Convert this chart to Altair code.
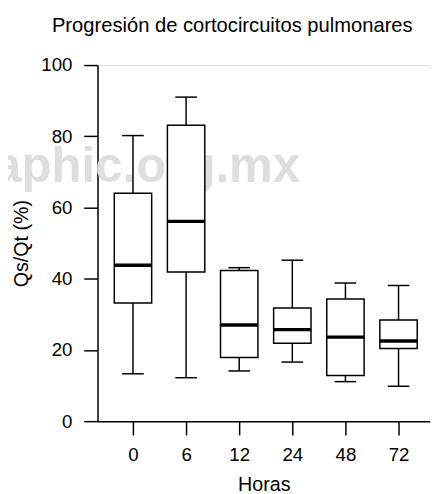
import altair as alt
import pandas as pd

hours = ["0", "6", "12", "24", "48", "72"]
whisker_low = [13.3, 12.2, 14.1, 16.6, 11.1, 9.8]
q1 = [33.2, 41.9, 17.9, 21.9, 12.8, 20.4]
median = [43.8, 56.1, 27.0, 25.7, 23.6, 22.5]
q3 = [64.0, 83.1, 42.3, 31.8, 34.3, 28.4]
whisker_high = [80.2, 91.0, 43.1, 45.2, 38.8, 38.1]

df = pd.DataFrame({
    "hora": hours,
    "lo": whisker_low,
    "q1": q1,
    "med": median,
    "q3": q3,
    "hi": whisker_high,
})

FONT = "Liberation Sans"
LFS = 19
TFS = 20

xenc = alt.X(
    "hora:N",
    sort=hours,
    scale=alt.Scale(type="point", padding=0.63, align=0.53),
    axis=alt.Axis(
        title="Horas", labelAngle=0, tickSize=14, tickWidth=1.5, tickColor="black",
        domainColor="black", domainWidth=1.5, labelFontSize=LFS, labelFont=FONT,
        labelColor="black", labelPadding=11, titleFontSize=TFS, titleFont=FONT,
        titleFontWeight="normal", titleColor="black", titlePadding=10, grid=False,
    ),
)
yscale = alt.Scale(domain=[0, 100], nice=False, zero=True)
yaxis = alt.Axis(
    title="Qs/Qt (%)", values=[0, 20, 40, 60, 80, 100], tickSize=14, tickWidth=1.5,
    tickColor="black", domainColor="black", domainWidth=1.5, labelFontSize=LFS,
    labelFont=FONT, labelColor="black", labelPadding=12, titleFontSize=TFS,
    titleFont=FONT, titleFontWeight="normal", titleColor="black", titlePadding=9,
    grid=False,
)

base = alt.Chart(df)

watermark = base.transform_filter(alt.datum.hora == "0").mark_text(
    text="medigraphic.org.mx", font=FONT, fontSize=50, fontWeight="bold",
    color="#dedede", align="right", baseline="alphabetic",
).encode(x=alt.value(206), y=alt.value(119))

whisk = base.mark_rule(color="black", strokeWidth=1.5).encode(
    x=xenc, y=alt.Y("lo:Q", scale=yscale, axis=yaxis), y2="hi:Q"
)
box = base.mark_bar(size=38, fill="white", stroke="black", strokeWidth=1.5, opacity=1).encode(
    x=xenc, y=alt.Y("q1:Q", scale=yscale, axis=yaxis), y2="q3:Q"
)
med = base.mark_tick(size=38, thickness=3.5, color="black", opacity=1).encode(
    x=xenc, y=alt.Y("med:Q", scale=yscale, axis=yaxis)
)
cap_lo = base.mark_tick(size=22, thickness=1.5, color="black", opacity=1).encode(
    x=xenc, y=alt.Y("lo:Q", scale=yscale, axis=yaxis)
)
cap_hi = base.mark_tick(size=22, thickness=1.5, color="black", opacity=1).encode(
    x=xenc, y=alt.Y("hi:Q", scale=yscale, axis=yaxis)
)

chart = alt.layer(watermark, whisk, box, med, cap_lo, cap_hi).properties(
    width=338,
    height=362,
    autosize=alt.AutoSizeParams(type="none"),
    padding={"left": 91, "top": 54, "right": 0, "bottom": 68},
    title=alt.TitleParams(
        "Progresión de cortocircuitos pulmonares", font=FONT, fontSize=20.5,
        fontWeight="normal", color="black", anchor="middle", dx=-32, offset=20,
    ),
).configure_view(stroke=None).configure(background="white")

chart.save("out.html", embed_options={"renderer": "svg", "actions": False})
